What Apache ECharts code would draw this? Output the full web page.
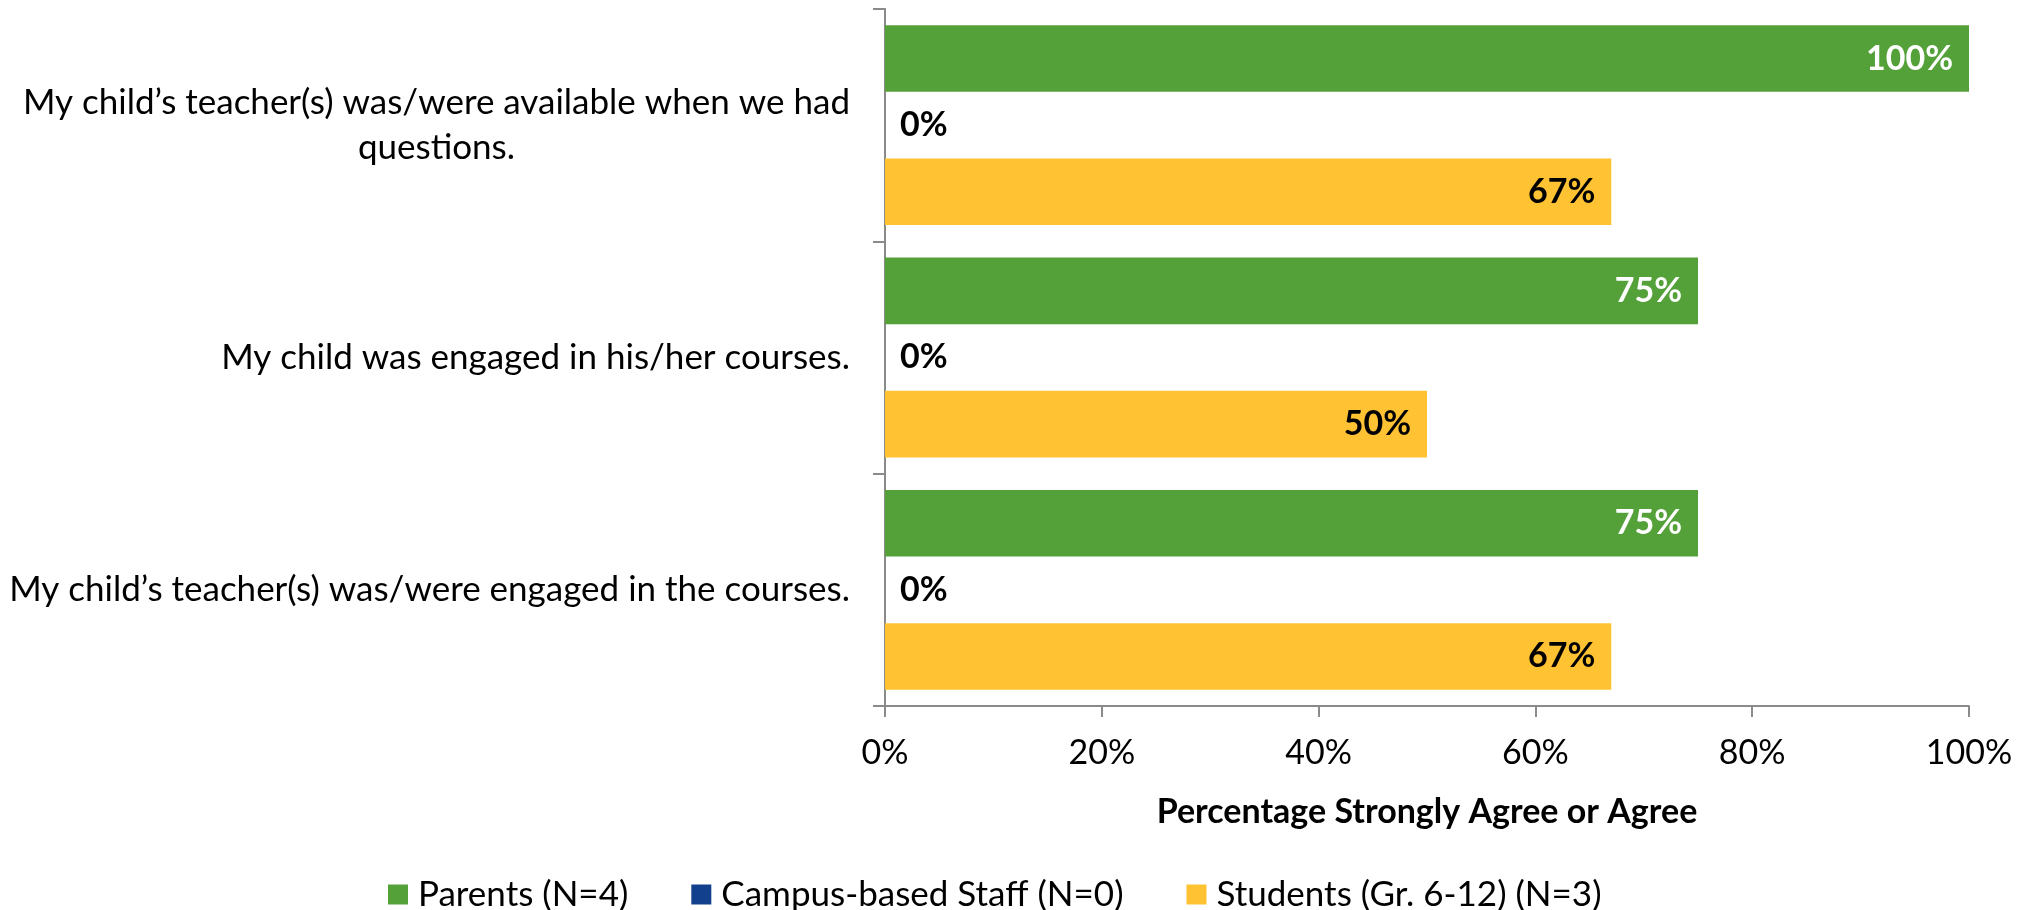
<!DOCTYPE html>
<html>
<head>
<meta charset="utf-8">
<script src="https://cdn.jsdelivr.net/npm/echarts@6/dist/echarts.min.js"></script>
<style>
  html, body { margin: 0; padding: 0; background: #fff; }
  #chart { width: 2028px; height: 910px; }
</style>
</head>
<body>
<div id="chart"></div>
<script>
// Survey items, listed top to bottom
const categories = [
  'My child\u2019s teacher(s) was/were available when we had questions.',
  'My child was engaged in his/her courses.',
  'My child\u2019s teacher(s) was/were engaged in the courses.'
];
const seriesNames = ['Parents (N=4)', 'Campus-based Staff (N=0)', 'Students (Gr. 6-12) (N=3)'];
const parents = [100, 75, 75];
const campusStaff = [0, 0, 0];
const students = [67, 50, 67];
const xTicks = [0, 20, 40, 60, 80, 100];
const axisTitle = 'Percentage Strongly Agree or Agree';

const FONT = 'Lato, "Liberation Sans", sans-serif';
const SIZE = 34;
const CAT_SIZE = 35;
const AXIS_COLOR = '#8a8a8a';
const LABEL_MAX_WIDTH = 850;

// Word-wrap a category label; each wrapped line is centred within the block.
const measureCtx = document.createElement('canvas').getContext('2d');
measureCtx.font = CAT_SIZE + 'px ' + FONT;
function wrapLabel(text) {
  const words = text.split(' ');
  const lines = [];
  let line = '';
  words.forEach(function (w) {
    const trial = line ? line + ' ' + w : w;
    if (line && measureCtx.measureText(trial).width > LABEL_MAX_WIDTH) {
      lines.push(line);
      line = w;
    } else {
      line = trial;
    }
  });
  if (line) lines.push(line);
  return lines.map(function (l) { return '{c|' + l + '}'; }).join('\n');
}

function barLabel(color, position, distance) {
  return {
    show: true,
    position: position,
    distance: distance,
    formatter: '{c}%',
    color: color,
    fontFamily: FONT,
    fontWeight: 'bold',
    fontSize: SIZE
  };
}

const chart = echarts.init(document.getElementById('chart'), null, { renderer: 'canvas' });
chart.setOption({
  backgroundColor: '#ffffff',
  animation: false,
  textStyle: { fontFamily: FONT },
  grid: { left: 885, right: 59, top: 9, bottom: 204 },
  legend: {
    data: seriesNames,
    left: 388,
    top: 877,
    icon: 'rect',
    itemWidth: 20,
    itemHeight: 20,
    itemGap: 63,
    padding: 0,
    textStyle: { fontFamily: FONT, fontSize: 35, color: '#000', padding: [0, 0, 0, 5] }
  },
  xAxis: {
    type: 'value',
    min: xTicks[0],
    max: xTicks[xTicks.length - 1],
    interval: xTicks[1] - xTicks[0],
    name: axisTitle,
    nameLocation: 'middle',
    nameGap: 89,
    nameTextStyle: { fontFamily: FONT, fontSize: SIZE, fontWeight: 'bold', color: '#000' },
    axisLine: { show: true, lineStyle: { color: AXIS_COLOR, width: 2 } },
    axisTick: { show: true, length: 11, lineStyle: { color: AXIS_COLOR, width: 2 } },
    splitLine: { show: false },
    axisLabel: { formatter: '{value}%', margin: 30, fontFamily: FONT, fontSize: SIZE, color: '#000' }
  },
  yAxis: {
    type: 'category',
    inverse: true,
    data: categories,
    axisLine: { show: true, lineStyle: { color: AXIS_COLOR, width: 2 } },
    axisTick: { show: true, length: 12, lineStyle: { color: AXIS_COLOR, width: 2 } },
    axisLabel: {
      margin: 35,
      align: 'right',
      formatter: wrapLabel,
      rich: {
        c: {
          align: 'center',
          fontFamily: FONT,
          fontSize: CAT_SIZE,
          lineHeight: 45,
          color: '#000'
        }
      }
    }
  },
  series: [
    {
      name: seriesNames[0], type: 'bar', data: parents,
      barGap: '0%', barCategoryGap: '14%',
      itemStyle: { color: '#54A13A' },
      label: barLabel('#ffffff', 'insideRight', 16)
    },
    {
      name: seriesNames[1], type: 'bar', data: campusStaff,
      barGap: '0%', barCategoryGap: '14%',
      itemStyle: { color: '#12408C' },
      label: barLabel('#000000', 'right', 15)
    },
    {
      name: seriesNames[2], type: 'bar', data: students,
      barGap: '0%', barCategoryGap: '14%',
      itemStyle: { color: '#FFC233' },
      label: barLabel('#000000', 'insideRight', 16)
    }
  ]
});
</script>
</body>
</html>
